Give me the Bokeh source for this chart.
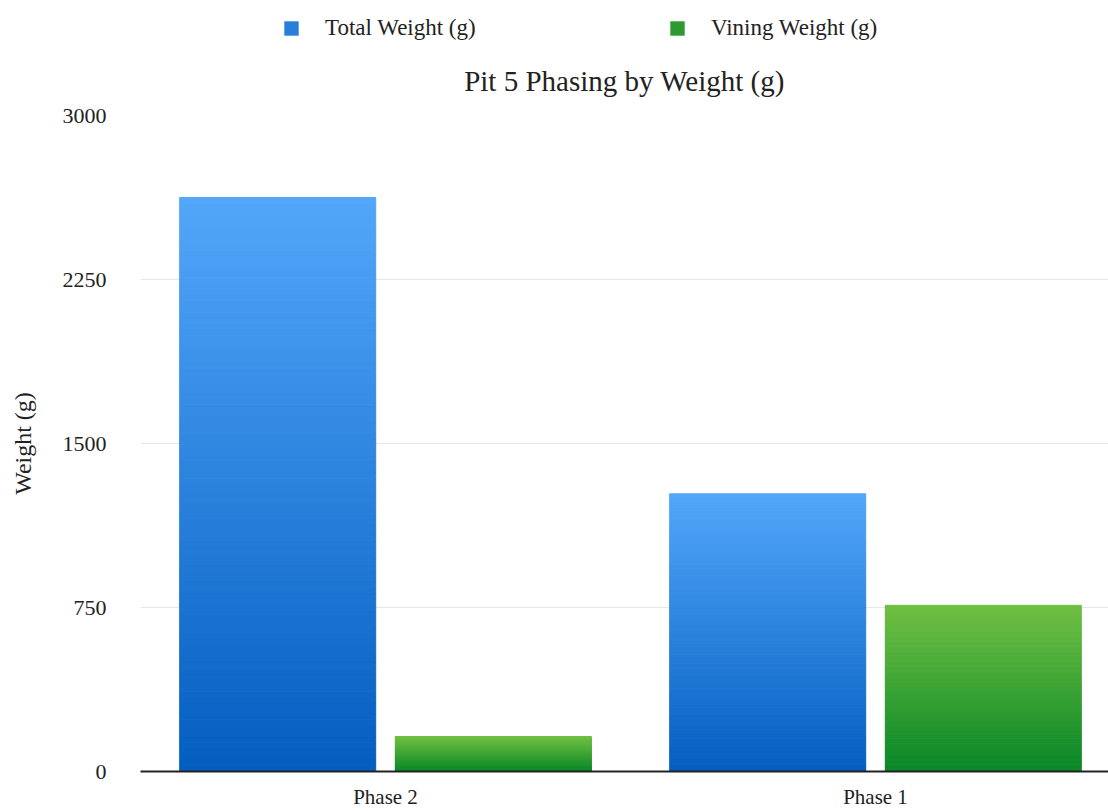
from bokeh.plotting import figure
from bokeh.layouts import column
from bokeh.models import Range1d, FixedTicker, Legend, LegendItem
from bokeh.embed import file_html
from bokeh.resources import INLINE

categories = ["Phase 2", "Phase 1"]
total_weight = [2625, 1270]
vining_weight = [160, 760]
series_names = ["Total Weight (g)", "Vining Weight (g)"]
y_ticks = [0, 750, 1500, 2250, 3000]

blue_top, blue_bot = (83, 167, 250), (4, 94, 192)
green_top, green_bot = (112, 192, 66), (8, 134, 40)

def mix(c1, c2, t):
    return "#%02x%02x%02x" % tuple(int(round(a + (b - a) * t)) for a, b in zip(c1, c2))

FONT = "Liberation Serif"

# ---- legend strip ----
LH = 42
lg = figure(width=1108, height=LH, output_backend="svg", toolbar_location=None,
            x_range=Range1d(0, 968), y_range=Range1d(0, LH),
            min_border=0, x_axis_type=None, y_axis_type=None)
lg.outline_line_color = None
lg.grid.grid_line_color = None
r0 = lg.vbar(x=[-1000], top=[-1000], bottom=[-1001], width=1,
             fill_color=mix(blue_bot, blue_top, 0.45), line_color=None)
r1 = lg.vbar(x=[-1000], top=[-1000], bottom=[-1001], width=1,
             fill_color=mix(green_bot, green_top, 0.35), line_color=None)
legend = Legend(items=[LegendItem(label=series_names[0], renderers=[r0]),
                       LegendItem(label=series_names[1], renderers=[r1])],
                orientation="horizontal", location=(142, 1),
                label_text_font=FONT, label_text_font_size="23px", label_text_color="#222222",
                glyph_width=18, glyph_height=18, label_standoff=25, spacing=0,
                label_width=343, label_height=20,
                border_line_color=None, background_fill_alpha=0, padding=0, margin=0)
lg.add_layout(legend)

# ---- main chart ----
p = figure(frame_width=968, frame_height=656, output_backend="svg", toolbar_location=None,
           x_range=Range1d(0, 1.9755), y_range=Range1d(0, 3000),
           min_border_left=140, min_border_right=0, min_border_top=115 - LH, min_border_bottom=40)
p.outline_line_color = None
p.background_fill_color = "white"

N = 100
xs = [i + 0.5 for i in range(len(categories))]
for vals, off, ctop, cbot in [(total_weight, -0.22, blue_top, blue_bot),
                              (vining_weight, 0.22, green_top, green_bot)]:
    x, bottom, top, color = [], [], [], []
    for xc, v in zip(xs, vals):
        for k in range(N):
            x.append(xc + off)
            bottom.append(v * k / N)
            top.append(v * (k + 1) / N)
            color.append(mix(cbot, ctop, (k + 0.5) / N))
    p.vbar(x=x, bottom=bottom, top=top, width=0.40, fill_color=color, line_color=color, line_width=1)

p.title.text = "Pit 5 Phasing by Weight (g)"
p.title.align = "center"
p.title.vertical_align = "bottom"
p.title.text_font = FONT
p.title.text_font_size = "29px"
p.title.text_font_style = "normal"
p.title.text_color = "#222222"
p.title.standoff = 37

p.yaxis.ticker = FixedTicker(ticks=y_ticks)
p.yaxis.axis_line_color = None
p.yaxis.major_tick_line_color = None
p.yaxis.minor_tick_line_color = None
p.yaxis.major_label_text_font = FONT
p.yaxis.major_label_text_font_size = "22px"
p.yaxis.major_label_text_color = "#222222"
p.yaxis.major_label_standoff = 28
p.yaxis.axis_label = "Weight (g)"
p.yaxis.axis_label_text_font = FONT
p.yaxis.axis_label_text_font_size = "24px"
p.yaxis.axis_label_text_font_style = "normal"
p.yaxis.axis_label_text_color = "#222222"
p.yaxis.axis_label_standoff = 24

p.xaxis.ticker = FixedTicker(ticks=xs)
p.xaxis.major_label_overrides = {x: c for x, c in zip(xs, categories)}
p.xaxis.axis_line_color = "#222222"
p.xaxis.axis_line_width = 2
p.xaxis.major_tick_line_color = None
p.xaxis.minor_tick_line_color = None
p.xaxis.major_label_text_font = FONT
p.xaxis.major_label_text_font_size = "21px"
p.xaxis.major_label_text_color = "#222222"
p.xaxis.major_label_standoff = 7

p.xgrid.grid_line_color = None
p.ygrid.grid_line_color = "#e6e6e6"

layout = column(lg, p, spacing=0)
open("out.html", "w").write(file_html(layout, INLINE))
